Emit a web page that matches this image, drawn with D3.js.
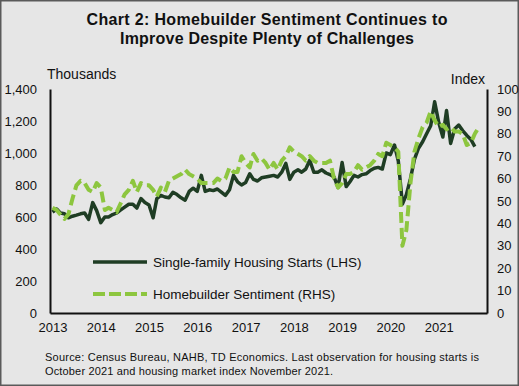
<!DOCTYPE html>
<html>
<head>
<meta charset="utf-8">
<script src="https://cdn.jsdelivr.net/npm/d3@7.9.0/dist/d3.min.js"></script>
<style>
  body { margin: 0; background: #e6e6e6; }
  svg { display: block; font-family: Arial, "Liberation Sans", sans-serif; }
</style>
</head>
<body>
<div id="chart"></div>
<script>
// monthly, Jan 2013 .. Oct 2021 (thousands, SAAR)
const starts = [
  630, 650, 625, 620, 595, 605, 612, 620, 625, 585, 690, 640,
  565, 600, 600, 615, 625, 644, 662, 680, 680, 656, 715, 690,
  675, 595, 715, 735, 725, 720, 755, 740, 720, 705, 760, 780,
  760, 860, 760, 770, 765, 775, 755, 735, 770, 860, 820, 800,
  815, 870, 835, 825, 845, 850, 855, 860, 850, 880, 935, 835,
  880, 895, 880, 900, 955, 880, 880, 895, 875, 865, 850, 785,
  940, 790, 820, 860, 850, 865, 870, 890, 905, 910, 900, 1000,
  990, 1050, 950, 680, 740, 840, 960, 1030, 1070, 1120, 1170, 1320,
  1190, 1100, 1265, 1060, 1150, 1175, 1140, 1110, 1085, 1040
];
// monthly, Jan 2013 .. Nov 2021 (index)
const sentiment = [
  47, 46, 44, 42, 44, 51, 57, 59, 58, 55, 54, 58,
  56, 46, 47, 46, 45, 49, 53, 55, 59, 54, 58, 57,
  57, 55, 52, 56, 54, 59, 60, 61, 62, 64, 62, 61,
  60, 58, 58, 58, 58, 60, 59, 60, 65, 63, 63, 70,
  67, 65, 71, 68, 69, 67, 64, 67, 64, 68, 70, 74,
  72, 71, 70, 68, 70, 68, 67, 67, 67, 68, 60, 56,
  58, 62, 62, 63, 66, 64, 65, 66, 68, 71, 70, 76,
  75, 74, 72, 30, 37, 58, 72, 78, 83, 85, 90, 86,
  83, 84, 82, 83, 81, 81, 80, 75, 76, 80, 83
];
const years = [2013, 2014, 2015, 2016, 2017, 2018, 2019, 2020, 2021];
const leftTicks = [0, 200, 400, 600, 800, 1000, 1200, 1400];
const rightTicks = [0, 10, 20, 30, 40, 50, 60, 70, 80, 90, 100];
const seriesNames = ['Single-family Housing Starts (LHS)', 'Homebuilder Sentiment (RHS)'];
const titleLines = ['Chart 2: Homebuilder  Sentiment  Continues  to', 'Improve Despite Plenty of Challenges'];
const sourceLines = [
  'Source: Census Bureau, NAHB, TD Economics.  Last observation  for housing  starts is',
  'October 2021  and  housing  market  index  November  2021.'
];

const width = 519, height = 386;
const margin = {top: 89, right: 32, bottom: 73, left: 50};
const darkGreen = '#1f3d24', lightGreen = '#8dc63f';

const month = i => new Date(2013, i, 1);
const startsData = starts.map((v, i) => ({date: month(i), value: v}));
const sentData = sentiment.map((v, i) => ({date: month(i), value: v}));

const svg = d3.select('#chart')
  .append('svg')
  .attr('width', width)
  .attr('height', height);

svg.append('rect')
  .attr('x', 0.75).attr('y', 0.75)
  .attr('width', width - 1.5).attr('height', height - 1.5)
  .attr('fill', '#e6e6e6')
  .attr('stroke', '#5a5a5a')
  .attr('stroke-width', 1.5);

// title
svg.append('g').selectAll('text')
  .data(titleLines)
  .join('text')
    .attr('x', 267)
    .attr('y', (d, i) => 25 + i * 18.5)
    .attr('text-anchor', 'middle')
    .attr('font-size', 16)
    .attr('font-weight', 'bold')
    .attr('fill', '#111')
    .attr('textLength', (d, i) => i ? 294 : 361)
    .attr('lengthAdjust', 'spacing')
    .text(d => d);

// scales
const x = d3.scaleTime()
  .domain([new Date(2012, 11, 13), new Date(2022, 0, 1)])
  .range([margin.left, width - margin.right]);
const yL = d3.scaleLinear()
  .domain([0, 1400])
  .range([height - margin.bottom, margin.top]);
const yR = d3.scaleLinear()
  .domain([0, 100])
  .range([height - margin.bottom, margin.top]);

// axes
const styleAxis = g => {
  g.select('.domain').attr('stroke', '#111').attr('stroke-width', 2);
  g.selectAll('text').attr('fill', '#111').attr('font-size', 13);
  g.attr('font-family', null);
};

svg.append('g')
  .attr('transform', `translate(0,${height - margin.bottom})`)
  .call(d3.axisBottom(x)
    .tickValues(years.map(y => new Date(y, 0, 1)))
    .tickFormat(d3.timeFormat('%Y'))
    .tickSize(0).tickPadding(10))
  .call(styleAxis);

svg.append('g')
  .attr('transform', `translate(${margin.left},0)`)
  .call(d3.axisLeft(yL)
    .tickValues(leftTicks)
    .tickFormat(d3.format(','))
    .tickSize(0).tickPadding(13))
  .call(styleAxis);

svg.append('g')
  .attr('transform', `translate(${width - margin.right},0)`)
  .call(d3.axisRight(yR)
    .tickValues(rightTicks)
    .tickSize(0).tickPadding(10))
  .call(styleAxis);

svg.append('text')
  .attr('x', 47).attr('y', 79)
  .attr('font-size', 14).attr('fill', '#111')
  .text('Thousands');
svg.append('text')
  .attr('x', 485).attr('y', 84)
  .attr('text-anchor', 'end')
  .attr('font-size', 14).attr('fill', '#111')
  .text('Index');

// lines
const lineL = d3.line().x(d => x(d.date)).y(d => yL(d.value));
const lineR = d3.line().x(d => x(d.date)).y(d => yR(d.value));

svg.append('path')
  .datum(startsData)
  .attr('d', lineL)
  .attr('fill', 'none')
  .attr('stroke', darkGreen)
  .attr('stroke-width', 3.5)
  .attr('stroke-linejoin', 'round');

svg.append('path')
  .datum(sentData)
  .attr('d', lineR)
  .attr('fill', 'none')
  .attr('stroke', lightGreen)
  .attr('stroke-width', 4)
  .attr('stroke-dasharray', '11,5')
  .attr('stroke-linejoin', 'round');

// legend
const legend = svg.append('g')
  .selectAll('g')
  .data(seriesNames)
  .join('g')
    .attr('transform', (d, i) => `translate(93,${262 + i * 32})`);

legend.append('line')
  .attr('x1', 0).attr('x2', 54)
  .attr('stroke', (d, i) => i ? lightGreen : darkGreen)
  .attr('stroke-width', (d, i) => i ? 4 : 3.5)
  .attr('stroke-dasharray', (d, i) => i ? '12,4' : null);

legend.append('text')
  .attr('x', 60).attr('dy', '0.35em')
  .attr('font-size', 13.5).attr('fill', '#111')
  .text(d => d);

// source note
svg.append('g').selectAll('text')
  .data(sourceLines)
  .join('text')
    .attr('x', 45)
    .attr('y', (d, i) => 361 + i * 14)
    .attr('font-size', 11)
    .attr('fill', '#111')
    .attr('textLength', (d, i) => i ? 288 : 434)
    .attr('lengthAdjust', 'spacing')
    .text(d => d);
</script>
</body>
</html>
